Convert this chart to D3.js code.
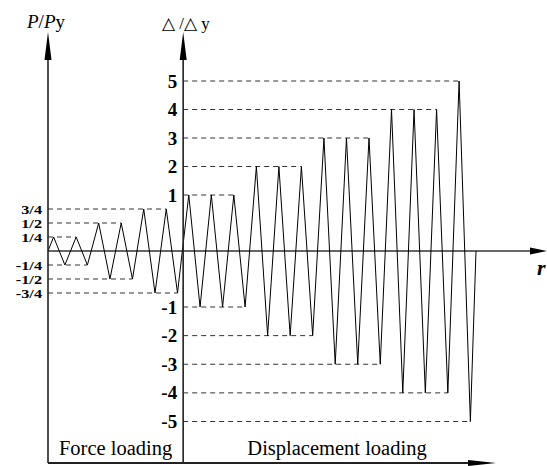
<!DOCTYPE html>
<html>
<head>
<meta charset="utf-8">
<script src="https://cdn.jsdelivr.net/npm/d3@7"></script>
<style>
  body { margin: 0; background: #fff; }
  text { font-family: "Liberation Serif", "Times New Roman", serif; }
</style>
</head>
<body>
<svg id="chart" width="547" height="466"></svg>
<script>
// loading protocol: amplitude of each full cycle
const forceAmps = [0.25, 0.25, 0.5, 0.5, 0.75, 0.75];
const dispAmps = [1, 1, 1, 2, 2, 2, 3, 3, 3, 4, 4, 4, 5];

const forceTicks = [0.75, 0.5, 0.25, -0.25, -0.5, -0.75];
const forceTickLabels = ["3/4", "1/2", "1/4", "-1/4", "-1/2", "-3/4"];
const dispTicks = [5, 4, 3, 2, 1, -1, -2, -3, -4, -5];

const svg = d3.select("#chart");

const nHalf = 2 * (forceAmps.length + dispAmps.length);
const x = d3.scaleLinear().domain([0, nHalf]).range([48, 476]);
const pScale = d3.scaleLinear().domain([-1, 1]).range([307, 195]);
const dScale = d3.scaleLinear().domain([-5, -1, 0, 1, 5]).range([421.5, 307, 251, 195, 81]);

const leftX = x(0);
const midX = x(2 * forceAmps.length);
const zeroY = pScale(0);

// build the zigzag points
const pts = [{ t: 0, v: 0, kind: "p" }];
forceAmps.forEach((a, i) => {
  pts.push({ t: 2 * i + 0.5, v: a, kind: "p" });
  pts.push({ t: 2 * i + 1.5, v: -a, kind: "p" });
});
dispAmps.forEach((a, j) => {
  const t0 = 2 * forceAmps.length + 2 * j;
  pts.push({ t: t0 + 0.5, v: a, kind: "d" });
  pts.push({ t: t0 + 1.5, v: -a, kind: "d" });
});
pts.push({ t: nHalf, v: 0, kind: "d" });

const yOf = d => d.kind === "p" ? pScale(d.v) : dScale(d.v);

// dashed reference lines to the last extreme of each level
function lastAt(v, kind) {
  const list = pts.filter(d => d.v === v && d.kind === kind);
  return list[list.length - 1];
}
forceTicks.forEach(v => {
  const d = lastAt(v, "p");
  svg.append("line")
    .attr("x1", leftX).attr("x2", x(d.t))
    .attr("y1", pScale(v)).attr("y2", pScale(v))
    .attr("stroke", "#333").attr("stroke-width", 1)
    .attr("stroke-dasharray", "5,4");
});
dispTicks.forEach(v => {
  const d = lastAt(v, "d");
  svg.append("line")
    .attr("x1", midX).attr("x2", x(d.t))
    .attr("y1", dScale(v)).attr("y2", dScale(v))
    .attr("stroke", "#333").attr("stroke-width", 1)
    .attr("stroke-dasharray", "5,4");
});

// zero line with arrow
svg.append("line")
  .attr("x1", leftX).attr("x2", 532)
  .attr("y1", zeroY).attr("y2", zeroY)
  .attr("stroke", "#333").attr("stroke-width", 1.4);
svg.append("path").attr("d", `M530,${zeroY - 3.5}L547,${zeroY}L530,${zeroY + 3.5}Z`).attr("fill", "#000");

// zigzag
svg.append("path")
  .datum(pts)
  .attr("d", d3.line().x(d => x(d.t)).y(yOf))
  .attr("fill", "none")
  .attr("stroke", "#000")
  .attr("stroke-width", 1);

// vertical axes
[leftX, midX].forEach(ax => {
  svg.append("line")
    .attr("x1", ax).attr("x2", ax).attr("y1", 50).attr("y2", 463)
    .attr("stroke", "#222").attr("stroke-width", 1.6);
  svg.append("path").attr("d", `M${ax - 3.5},60L${ax},32L${ax + 3.5},60Z`).attr("fill", "#000");
});

// bottom line with arrow
svg.append("line")
  .attr("x1", leftX).attr("x2", 472).attr("y1", 463).attr("y2", 463)
  .attr("stroke", "#222").attr("stroke-width", 1.8);
svg.append("path").attr("d", "M468,460L496,463L468,466Z").attr("fill", "#000");

// tick labels
const gLeft = svg.append("g").attr("transform", `translate(${leftX},0)`)
  .call(d3.axisLeft(pScale).tickValues(forceTicks)
    .tickFormat((d, i) => forceTickLabels[i]).tickSize(0).tickPadding(6));
gLeft.select(".domain").remove();
gLeft.attr("font-family", "Liberation Serif").attr("font-weight", "bold").attr("font-size", 12.5);
gLeft.selectAll("text")
  .attr("fill", "#000")
  .attr("dy", "0.34em")
  .attr("transform", "scale(1.3,1)")
  .attr("x", -6 / 1.3);

const gMid = svg.append("g").attr("transform", `translate(${midX},0)`)
  .call(d3.axisLeft(dScale).tickValues(dispTicks).tickFormat(d => String(d)).tickSize(0).tickPadding(6));
gMid.select(".domain").remove();
gMid.attr("font-family", "Liberation Serif").attr("font-weight", "bold").attr("font-size", 19);
gMid.selectAll("text").attr("fill", "#000");

// titles
const t1 = svg.append("text").attr("x", 27).attr("y", 28).style("font-size", "19px");
t1.append("tspan").style("font-style", "italic").text("P");
t1.append("tspan").text("/");
t1.append("tspan").style("font-style", "italic").text("P");
t1.append("tspan").text("y");

svg.append("text").attr("x", 162).attr("y", 29).style("font-size", "17px").text("△ /△ y");

svg.append("text").attr("x", 537).attr("y", 275)
  .style("font-size", "22px").style("font-style", "italic").style("font-weight", "bold").text("r");

svg.append("text").attr("x", (leftX + midX) / 2).attr("y", 455)
  .attr("text-anchor", "middle").style("font-size", "20.5px").text("Force loading");
svg.append("text").attr("x", 337).attr("y", 455)
  .attr("text-anchor", "middle").style("font-size", "20.5px").text("Displacement loading");
</script>
</body>
</html>
